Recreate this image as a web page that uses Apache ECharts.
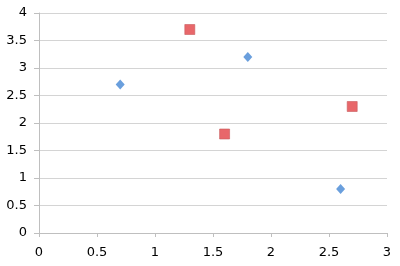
<!DOCTYPE html>
<html><head><meta charset="utf-8">
<script src="https://cdn.jsdelivr.net/npm/echarts@6/dist/echarts.min.js"></script>
<style>html,body{margin:0;padding:0;background:#fff}#c{width:400px;height:266px}</style>
</head><body><div id="c"></div>
<script>
var seriesA = [[0.7, 2.7], [1.8, 3.2], [2.6, 0.8]];
var seriesB = [[1.3, 3.7], [1.6, 1.8], [2.7, 2.3]];
var xTicks = [0, 0.5, 1, 1.5, 2, 2.5, 3];
var yTicks = [0, 0.5, 1, 1.5, 2, 2.5, 3, 3.5, 4];

var chart = echarts.init(document.getElementById('c'), null, {renderer: 'canvas'});
chart.setOption({
  animation: false,
  grid: {left: 39, right: 13, top: 13, bottom: 33},
  xAxis: {
    type: 'value', min: xTicks[0], max: xTicks[xTicks.length - 1], interval: 0.5,
    axisLine: {show: true, lineStyle: {color: '#bfbfbf', width: 1}},
    axisTick: {show: true, length: 4, lineStyle: {color: '#bfbfbf'}},
    splitLine: {show: false},
    axisLabel: {color: '#000', fontSize: 13, fontFamily: 'DejaVu Sans, sans-serif', margin: 13}
  },
  yAxis: {
    type: 'value', min: yTicks[0], max: yTicks[yTicks.length - 1], interval: 0.5,
    axisLine: {show: true, lineStyle: {color: '#bfbfbf', width: 1}},
    axisTick: {show: true, length: 5, lineStyle: {color: '#bfbfbf'}},
    splitLine: {show: true, lineStyle: {color: '#d4d4d4', width: 1}},
    axisLabel: {color: '#000', fontSize: 13, fontFamily: 'DejaVu Sans, sans-serif', margin: 12}
  },
  series: [
    {type: 'scatter', data: seriesA, symbol: 'diamond', symbolSize: [9, 10],
     itemStyle: {color: '#6a9fdd', opacity: 1}},
    {type: 'scatter', data: seriesB, symbol: 'rect', symbolSize: 10,
     itemStyle: {color: '#e8676a', borderColor: '#c85a5c', borderWidth: 0.6, opacity: 1}}
  ]
});
</script></body></html>
